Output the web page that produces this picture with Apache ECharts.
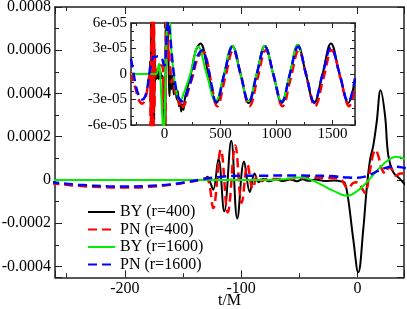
<!DOCTYPE html>
<html><head><meta charset="utf-8">
<script src="https://cdn.jsdelivr.net/npm/echarts@6/dist/echarts.min.js"></script>
<style>html,body{margin:0;padding:0;background:#fff}#c{width:407px;height:309px}</style>
</head><body><div id="c"></div>
<script>
const seriesNames = ['BY (r=400)', 'PN (r=400)', 'BY (r=1600)', 'PN (r=1600)'];
const mainXRange = [-260, 40];
const mainYRange = [-0.00045, 0.0008];
const insetXRange = [-300, 1700];
const insetYRange = [-6e-5, 6e-5];
const xAxisName = 't/M';

const byR400 = [
[-300,0],[-200,0],[-132,0],
[-129,0.15e-4],[-126.5,-0.12e-4],[-124,-0.45e-4],[-119.5,0.97e-4],[-114.5,-1.45e-4],[-108.5,1.82e-4],[-103.3,-1.78e-4],[-97.5,0.85e-4],[-92.5,-0.55e-4],[-88.5,0.3e-4],[-85,-0.1e-4],[-81,0.05e-4],[-76,-0.06e-4],[-70,0.03e-4],[-64,-0.05e-4],[-58,0.02e-4],[-52,-0.06e-4],[-47,0.04e-4],[-42,-0.04e-4],[-36,0.02e-4],[-28,-0.05e-4],[-20,-0.02e-4],[-13,-0.08e-4],[-10.7,-0.15e-4],[-7.9,-0.9e-4],[-3.6,-2.75e-4],[0.7,-4.27e-4],[5,-2.27e-4],[7.9,-0.42e-4],[10.8,0.93e-4],[13.6,1.59e-4],[16.5,2.67e-4],[19.9,4.15e-4],[23.7,2.98e-4],[26.5,1.13e-4],[30.8,0.36e-4],[36.5,0.05e-4],[40.8,-0.19e-4],
[45,-2.6e-5],[52,0.8e-5],[60,-1.8e-5],[70,-0.2e-5],[82,-2.4e-5],[95,-1.2e-5],[108,-3.0e-5],[118,-2.0e-5],[128,-3.8e-5],[138,-3.0e-5],[148,-4.4e-5],[158,-3.6e-5],[168,-4.2e-5],[180,-3.0e-5],[200,-1.8e-5],[235,0],[275,2.6e-5],[320,3.6e-5],[390,0],[460,-3.4e-5],[532,0],[605,3.3e-5],[678,0],[750,-3.4e-5],[822,0],[895,3.3e-5],[970,0],[1045,-3.4e-5],[1118,0],[1190,3.4e-5],[1262,0],[1335,-3.4e-5],[1410,0],[1485,3.6e-5],[1562,0],[1640,-3.4e-5],[1700,-0.6e-5]
];

const pnR400 = [
[-300,0.2e-5],[-280,-1.0e-5],[-260,-1.7e-5],[-240,-2.7e-5],[-220,-3.3e-5],[-200,-3.5e-5],[-180,-3.2e-5],[-160,-2.2e-5],[-145,-0.9e-5],[-135,0],[-130,0.8e-5],[-127.5,-1.5e-5],[-124,-1.3e-4],[-117.5,1.4e-4],[-111.5,-1.5e-4],[-105,1.6e-4],[-99.5,-1.05e-4],[-94.5,0.7e-4],[-90,-0.4e-4],[-86,0.2e-4],[-82,-0.05e-4],[-78,0.05e-4],[-60,0.05e-4],[-40,0.1e-4],[-25,0.1e-4],[-15,0.05e-4],[-8,-0.4e-4],[-4,-0.15e-4],[0,-0.1e-4],[3,-0.3e-4],[6.5,-0.6e-4],[10,0.2e-4],[13,1.1e-4],[15.5,1.4e-4],[18,1.1e-4],[21,0.5e-4],[24,0.3e-4],[27,0.6e-4],[30,0.45e-4],[33,0.2e-4],[37,0.3e-4],[40,0.3e-4],
[48,1.0e-5],[60,-1.0e-5],[75,-0.5e-5],[95,-2.2e-5],[115,-2.8e-5],[135,-3.6e-5],[150,-3.2e-5],[165,-3.9e-5],[185,-3.4e-5],[210,-2.0e-5],[250,-0.3e-5],[300,2.0e-5],[350,2.6e-5],[385,1.2e-5],[410,-0.6e-5],[470,-3.8e-5],[540,-0.5e-5],[612,2.8e-5],[686,-0.5e-5],[758,-3.8e-5],[830,-0.5e-5],[903,2.8e-5],[978,-0.5e-5],[1053,-3.8e-5],[1126,-0.5e-5],[1198,2.8e-5],[1270,-0.5e-5],[1343,-3.8e-5],[1418,-0.5e-5],[1493,2.8e-5],[1570,-0.5e-5],[1648,-3.8e-5],[1700,-1.5e-5]
];

const byR1600 = [
[-300,0],[-150,0],[-75,0],[-62,0.04e-4],[-50,0.12e-4],[-42,0.05e-4],[-32,-0.19e-4],[-21,-0.49e-4],[-9,-0.73e-4],[0,-0.5e-4],[8,-0.1e-4],[19,0.56e-4],[27,0.95e-4],[33,1.08e-4],[40,1.0e-4],[48,0.7e-4],
[58,3.2e-5],[68,1.6e-5],[90,-1.0e-5],[115,-2.6e-5],[140,-3.1e-5],[170,-2.3e-5],[230,0],[300,3.2e-5],[375,0],[455,-3.2e-5],[530,0],[604,3.3e-5],[677,0],[750,-3.2e-5],[822,0],[895,3.3e-5],[970,0],[1045,-3.2e-5],[1118,0],[1188,3.4e-5],[1215,2.6e-5]
];

const pnR1600 = [
[-300,1.8e-5],[-280,0.3e-5],[-260,-1.2e-5],[-240,-2.2e-5],[-215,-2.9e-5],[-200,-3.0e-5],[-180,-2.8e-5],[-160,-2.0e-5],[-145,-0.8e-5],[-135,0.2e-5],[-120,1.3e-5],[-100,2.0e-5],[-80,2.0e-5],[-60,2.1e-5],[-40,2.0e-5],[-20,1.7e-5],[-8,1.1e-5],[0,1.0e-5],[8,1.8e-5],[15,3.5e-5],[22,5.2e-5],[30,6.2e-5],[36,6.0e-5],[42,5.4e-5],
[52,4.2e-5],[65,2.2e-5],[85,-0.2e-5],[110,-2.2e-5],[135,-3.0e-5],[160,-3.2e-5],[195,-2.4e-5],[240,-0.5e-5],[290,2.0e-5],[340,2.8e-5],[375,1.5e-5],[400,0],[462,-3.3e-5],[533,0],[606,3.2e-5],[679,0],[751,-3.3e-5],[823,0],[896,3.2e-5],[971,0],[1046,-3.3e-5],[1119,0],[1191,3.2e-5],[1263,0],[1336,-3.3e-5],[1411,0],[1486,3.1e-5],[1563,0],[1641,-3.3e-5],[1700,-0.5e-5]
];

const FONT = 'Liberation Serif';
const frame = {show:true, onZero:false, lineStyle:{color:'#222', width:1.5}};
function expFmt(v){
  if (Math.abs(v) < 1e-12) return '0';
  const e = Math.floor(Math.log10(Math.abs(v)) + 1e-9);
  const m = Math.round(v / Math.pow(10, e));
  return m + 'e' + (e < 0 ? '-' : '+') + String(Math.abs(e)).padStart(2, '0');
}
function plainFmt(v){ return String(+v.toPrecision(10)); }
function xAx(grid, range, split, pos, labels, fs, tl, ml, margin, extra){
  return Object.assign({
    type:'value', gridIndex:grid, position:pos, min:range[0], max:range[1], splitNumber:split,
    axisLine:frame, splitLine:{show:false},
    axisTick:{show:true, inside:true, length:tl, lineStyle:{color:'#222', width:1}},
    minorTick:{show:true, splitNumber:2, length:ml, lineStyle:{color:'#222', width:1}},
    axisLabel:{show:labels, showMinLabel:false, showMaxLabel:false, margin:margin, color:'#000', fontFamily:FONT, fontSize:fs, formatter:plainFmt}
  }, extra || {});
}
function yAx(grid, range, split, pos, labels, fs, tl, ml, margin, minorSplit, fmt, extra){
  return Object.assign({
    type:'value', gridIndex:grid, position:pos, min:range[0], max:range[1],
    axisLine:frame, splitLine:{show:false},
    axisTick:{show:true, inside:true, length:tl, lineStyle:{color:'#222', width:1}},
    minorTick:{show:true, splitNumber:minorSplit, length:ml, lineStyle:{color:'#222', width:1}},
    axisLabel:{show:labels, showMinLabel:grid===1, margin:margin, color:'#000', fontFamily:FONT, fontSize:fs, formatter:fmt}
  }, split, extra || {});
}

const styles = [
  {color:'#000000', width:2, type:'solid'},
  {color:'#ff0000', width:2.5, type:[9,5]},
  {color:'#00ee00', width:2, type:'solid'},
  {color:'#0000ff', width:2.5, type:[9,5]}
];
const datasets = [byR400, pnR400, byR1600, pnR1600];
const series = [];
[0,1].forEach(function(g){
  datasets.forEach(function(d, i){
    series.push({
      type:'line', name:seriesNames[i], data:d, xAxisIndex:g*2, yAxisIndex:g*2,
      symbol:'none', smooth:0.4, clip:true, silent:true,
      lineStyle:{color:styles[i].color, width:styles[i].width, type:styles[i].type},
      itemStyle:{color:styles[i].color}, z: 2 + g*5
    });
  });
});

const chart = echarts.init(document.getElementById('c'), null, {renderer:'canvas'});
chart.setOption({
  animation:false,
  backgroundColor:'#fff',
  grid:[
    {left:55, top:7, width:349, height:270.3, containLabel:false, outerBoundsMode:'none'},
    {left:131, top:23, width:224, height:102, containLabel:false, outerBoundsMode:'none', show:true, backgroundColor:'#fff', borderWidth:0, z:4}
  ],
  legend:{
    orient:'vertical', left:82, top:199, itemWidth:27, itemHeight:14, itemGap:1.5,
    selectedMode:false, data:seriesNames,
    itemStyle:{opacity:0},
    lineStyle:{width:2},
    textStyle:{fontFamily:FONT, fontSize:16, color:'#000'}
  },
  xAxis:[
    xAx(0, mainXRange, 3, 'bottom', true, 16, 7, 4, 3, {name:xAxisName, nameLocation:'middle', nameGap:15, nameMoveOverlap:false, nameTextStyle:{fontFamily:FONT, fontSize:16, color:'#000'}}),
    xAx(0, mainXRange, 3, 'top', false, 16, 7, 4, 3),
    xAx(1, insetXRange, 4, 'bottom', true, 15, 5, 3, 2, {z:6}),
    xAx(1, insetXRange, 4, 'top', false, 15, 5, 3, 2, {z:6})
  ],
  yAxis:[
    yAx(0, mainYRange, {splitNumber:6}, 'left', true, 16, 7, 4, 4, 2, plainFmt),
    yAx(0, mainYRange, {splitNumber:6}, 'right', false, 16, 7, 4, 4, 2, plainFmt),
    yAx(1, insetYRange, {interval:3e-5}, 'left', true, 15, 5, 3, 4, 3, expFmt, {z:6}),
    yAx(1, insetYRange, {interval:3e-5}, 'right', false, 15, 5, 3, 4, 3, expFmt, {z:6})
  ],
  series:series
});
</script></body></html>
